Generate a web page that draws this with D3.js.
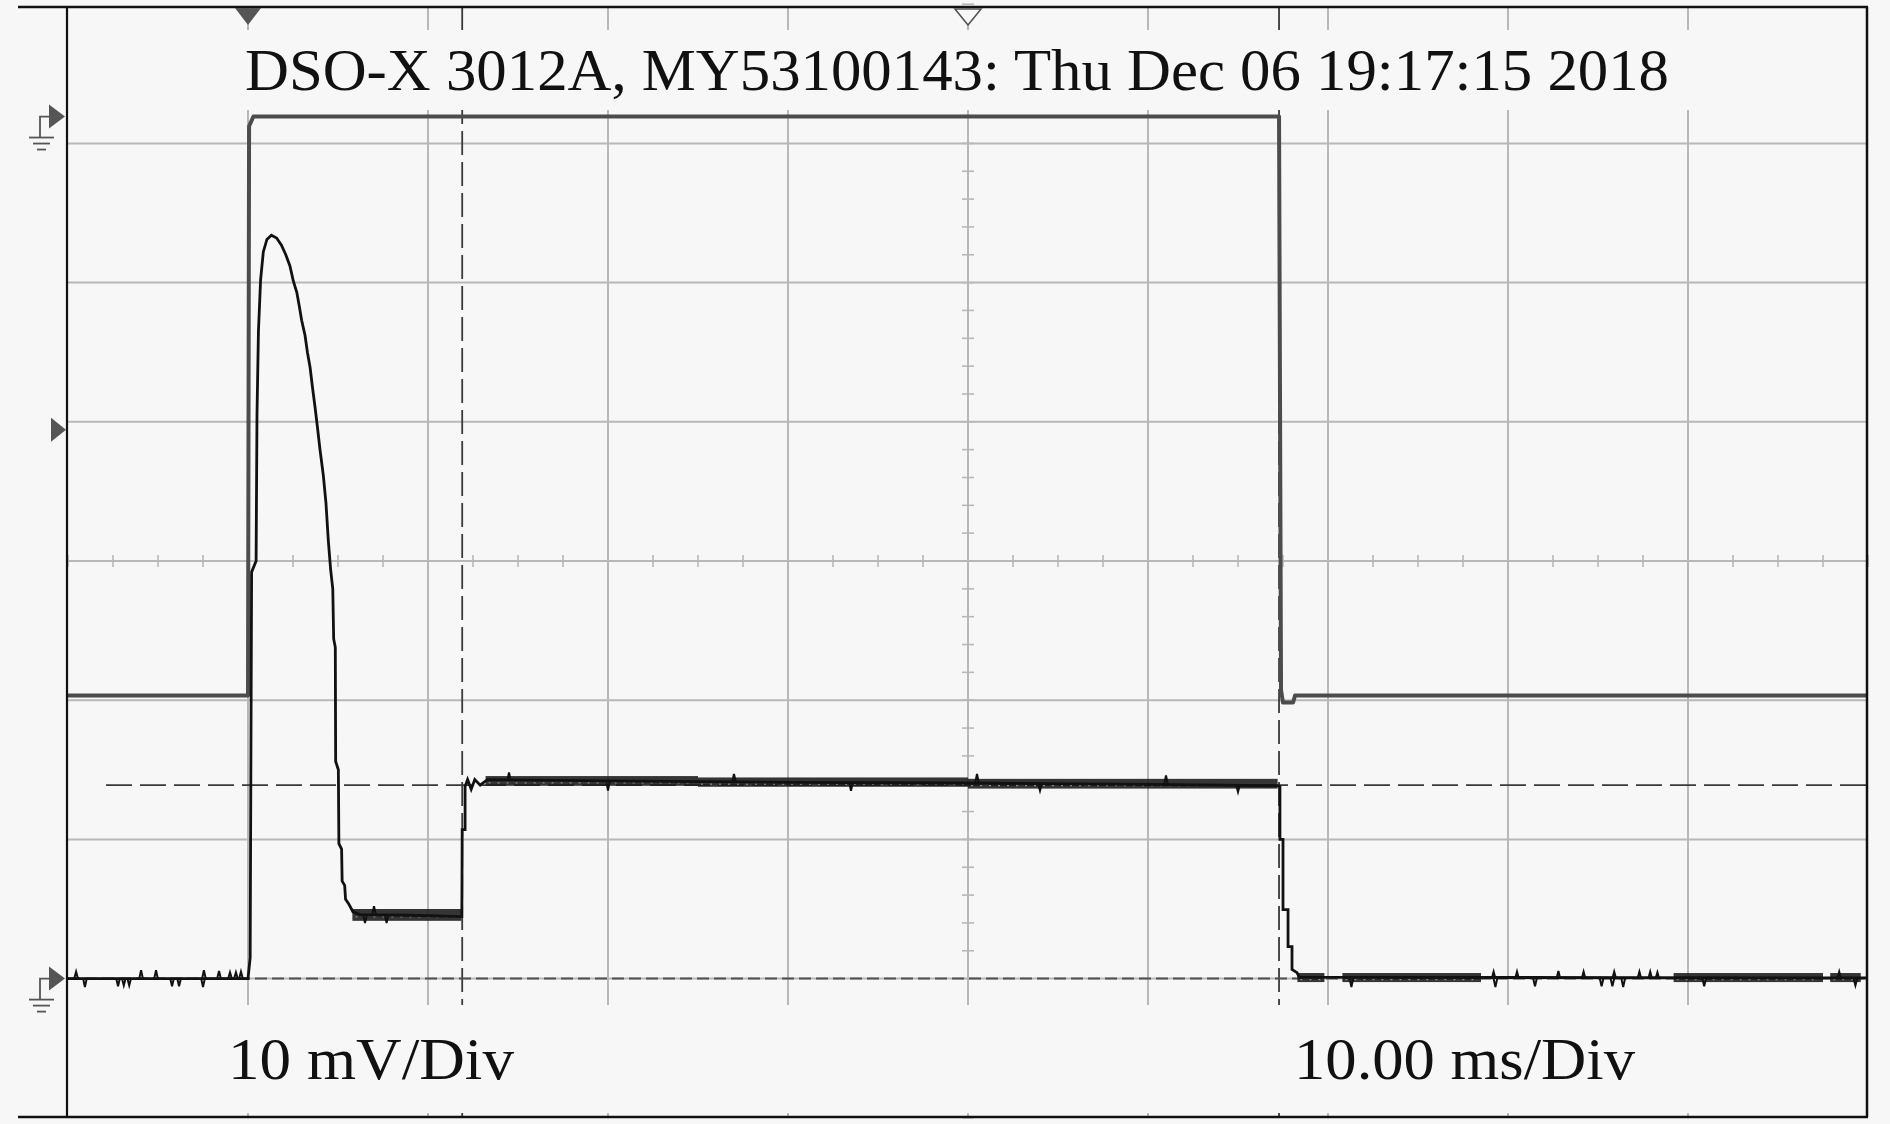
<!DOCTYPE html>
<html><head><meta charset="utf-8">
<script src="https://cdn.jsdelivr.net/npm/d3@7"></script>
<style>html,body{margin:0;padding:0;background:#f7f7f7;} svg{display:block}</style>
</head><body>
<svg id="c" width="1890" height="1124"></svg>
<script>
// ---------------- data ----------------
const titleText = "DSO-X 3012A, MY53100143: Thu Dec 06 19:17:15 2018";
const voltLabel = "10 mV/Div";
const timeLabel = "10.00 ms/Div";
const timeDomain = [-10, 90];          // ms, 10 ms/div, trigger at 0
const divDomain = [-4, 4];             // 8 vertical divisions
const timeGridStep = 10;               // ms per division
const ch2MvPerDiv = 10;                // 10 mV/Div
const ch2GroundDiv = -3;               // ch2 ground marker position (div)
const ch1GroundDiv = 3.193;            // ch1 ground marker position (div)
const triggerTime = 0;                 // filled marker at top
const referenceTime = 40;              // hollow marker at top
const triggerLevelCh1 = -2.25;         // div relative to ch1 ground
const cursorTimes = [11.9, 57.28];     // ms, vertical dashed cursors
const cursorLevelMv = 13.9;            // mV, long-dash horizontal cursor
const groundCursorMv = 0;              // mV, short-dash horizontal cursor

// ch1: [time ms, level in div relative to ch1 ground]
const ch1Trace = [
  [-10, -4.159], [0.0, -4.159], [0.06, -0.07], [0.3, 0], [57.28, 0],
  [57.39, -4.12], [57.5, -4.21], [58.06, -4.21], [58.17, -4.159], [90, -4.159]
];

// ch2: [time ms, mV]
const ch2Trace = [
  [-10, 0], [0.0, 0], [0.12, 1.5], [0.2, 29.2], [0.45, 30.0], [0.5, 40.5],
  [0.58, 46.5], [0.7, 50.2], [0.85, 52.2], [1.05, 53.1], [1.3, 53.4],
  [1.59, 53.2], [1.85, 52.7], [2.1, 52.0], [2.33, 51.2], [2.52, 50.1],
  [2.71, 49.3], [2.85, 48.3], [2.98, 47.3], [3.17, 46.2], [3.3, 45.0],
  [3.45, 43.9], [3.58, 42.5], [3.72, 41.1], [3.85, 39.7], [4.0, 38.0],
  [4.18, 36.2], [4.33, 34.2], [4.46, 31.5], [4.59, 29.4], [4.71, 28.0],
  [4.76, 24.4], [4.85, 23.8], [4.87, 15.6], [5.02, 15.0], [5.05, 9.7],
  [5.2, 9.3], [5.23, 7.0], [5.37, 6.7], [5.42, 5.7], [5.58, 5.4],
  [5.83, 4.8], [6.22, 4.6], [9.0, 4.55], [11.88, 4.45], [11.9, 10.7],
  [12.06, 10.7], [12.06, 13.8], [12.2, 14.3], [12.4, 13.6], [12.6, 14.3],
  [12.9, 13.9], [13.3, 14.3], [20, 14.2], [30, 14.1], [40, 14.05],
  [50, 13.95], [57.28, 13.85], [57.33, 13.8], [57.33, 10.0], [57.5, 10.0],
  [57.5, 4.96], [57.78, 4.96], [57.78, 2.3], [58.0, 2.3], [58.0, 0.65],
  [58.28, 0.43], [58.4, 0.1], [90, 0.05]
];

// dense-noise regions on ch2: [t0, t1, low mV, high mV]
const ch2Bands = [
  [5.8, 11.85, 4.15, 5.0],
  [13.2, 25, 13.85, 14.55],
  [25, 40, 13.78, 14.45],
  [40, 57.2, 13.65, 14.35],
  [58.3, 59.8, -0.25, 0.4],
  [60.8, 68.5, -0.25, 0.4],
  [79.2, 87.5, -0.25, 0.4],
  [87.9, 89.6, -0.25, 0.4]
];

// isolated noise spikes on ch2: [t ms, base mV, peak mV]
const ch2Spikes = [
  [-9.55, 0, 0.5], [-9.06, 0, -0.6], [-7.22, 0, -0.55], [-6.9, 0, -0.5],
  [-6.6, 0, -0.5], [-5.94, 0, 0.6], [-5.11, 0, 0.6], [-4.22, 0, -0.55],
  [-3.83, 0, -0.55], [-2.5, 0, -0.6], [-2.45, 0, 0.6], [-1.61, 0, 0.55],
  [-1.0, 0, 0.45], [-0.67, 0, 0.45], [-0.39, 0, 0.5],
  [6.5, 4.6, 4.0], [7.0, 4.6, 5.2], [7.7, 4.6, 4.0],
  [14.5, 14.2, 14.8], [20, 14.2, 13.5], [27, 14.1, 14.7], [33.5, 14.1, 13.5],
  [40.5, 14.05, 14.7], [44, 14.0, 13.5], [51, 13.95, 14.6], [55, 13.9, 13.4],
  [61.3, 0, -0.6], [69.3, 0, -0.6], [71.5, 0, -0.55], [75.2, 0, -0.55],
  [75.8, 0, -0.55], [76.4, 0, -0.6], [80.9, 0, -0.55], [89.3, 0, -0.5],
  [69.2, 0, 0.5], [70.5, 0, 0.5], [72.8, 0, 0.55], [74.2, 0, 0.5],
  [75.9, 0, 0.5], [77.3, 0, 0.5], [77.9, 0, 0.5], [78.3, 0, 0.45], [88.4, 0, 0.5]
];

// ---------------- drawing ----------------
const svg = d3.select("#c");
const W = 1890, H = 1124;
const BG = "#f7f7f7", GRID = "#b8b8b8", DARK = "#555";
const x = d3.scaleLinear().domain(timeDomain).range([68, 1868]);
const y = d3.scaleLinear().domain(divDomain).range([1117.8, 4.2]);
const y2 = v => y(v / ch2MvPerDiv + ch2GroundDiv);
const y1 = d => y(d + ch1GroundDiv);
const plotL = x(timeDomain[0]), plotR = x(timeDomain[1]);
const topY = 7, bottomY = 1117;

svg.append("rect").attr("width", W).attr("height", H).attr("fill", BG);

// grid
const g = svg.append("g");
const tTicks = d3.range(timeDomain[0] + timeGridStep, timeDomain[1], timeGridStep);
g.selectAll("line.v").data(tTicks).join("line")
  .attr("x1", d => x(d)).attr("x2", d => x(d)).attr("y1", topY).attr("y2", bottomY)
  .attr("stroke", GRID).attr("stroke-width", 2);
const dTicks = d3.range(divDomain[0] + 1, divDomain[1], 1);
g.selectAll("line.h").data(dTicks).join("line")
  .attr("x1", plotL).attr("x2", plotR).attr("y1", d => y(d)).attr("y2", d => y(d))
  .attr("stroke", GRID).attr("stroke-width", 2);
// minor ticks on center axes
const cx = x((timeDomain[0] + timeDomain[1]) / 2), cy = y(0);
const minorT = d3.range(timeDomain[0], timeDomain[1] + 0.01, timeGridStep / 4);
g.selectAll("line.mt").data(minorT).join("line")
  .attr("x1", d => x(d)).attr("x2", d => x(d)).attr("y1", cy - 6).attr("y2", cy + 6)
  .attr("stroke", GRID).attr("stroke-width", 1.6);
const minorD = d3.range(divDomain[0], divDomain[1] + 0.01, 0.2);
g.selectAll("line.md").data(minorD).join("line")
  .attr("x1", cx - 6).attr("x2", cx + 6).attr("y1", d => y(d)).attr("y2", d => y(d))
  .attr("stroke", GRID).attr("stroke-width", 1.6);

// cursors
svg.selectAll("line.cv").data(cursorTimes).join("line")
  .attr("x1", d => x(d)).attr("x2", d => x(d)).attr("y1", topY).attr("y2", bottomY)
  .attr("stroke", "#3a3a3a").attr("stroke-width", 1.8).attr("stroke-dasharray", "24,7");
svg.append("line").attr("x1", 106).attr("x2", plotR).attr("y1", y2(cursorLevelMv)).attr("y2", y2(cursorLevelMv))
  .attr("stroke", "#3a3a3a").attr("stroke-width", 1.8).attr("stroke-dasharray", "26,8");
svg.append("line").attr("x1", plotL).attr("x2", plotR).attr("y1", y2(groundCursorMv)).attr("y2", y2(groundCursorMv))
  .attr("stroke", "#505050").attr("stroke-width", 2).attr("stroke-dasharray", "12,5");

// label boxes
svg.append("rect").attr("x", plotL + 1).attr("y", 30).attr("width", plotR - plotL - 2).attr("height", 80).attr("fill", BG);
svg.append("rect").attr("x", plotL + 1).attr("y", 1005).attr("width", plotR - plotL - 2).attr("height", 108).attr("fill", BG);

// ch1 trace
const line1 = d3.line().x(d => x(d[0])).y(d => y1(d[1]));
svg.append("path").attr("d", line1(ch1Trace)).attr("fill", "none")
  .attr("stroke", "#4c4c4c").attr("stroke-width", 4).attr("stroke-linejoin", "round");

// ch2 noise bands (dense sampling noise) with dotted texture
svg.selectAll("rect.band").data(ch2Bands).join("rect")
  .attr("x", d => x(d[0])).attr("width", d => x(d[1]) - x(d[0]))
  .attr("y", d => y2(d[3])).attr("height", d => y2(d[2]) - y2(d[3]))
  .attr("fill", "#1a1a1a").attr("opacity", 0.88);
svg.selectAll("line.tex").data(ch2Bands).join("line")
  .attr("x1", d => x(d[0]) + 3).attr("x2", d => x(d[1]) - 3)
  .attr("y1", d => y2((d[2] + d[3]) / 2) + 2).attr("y2", d => y2((d[2] + d[3]) / 2) + 2)
  .attr("stroke", "#8c8c8c").attr("stroke-width", 1.2).attr("stroke-dasharray", "2,7");

// ch2 trace
const line2 = d3.line().x(d => x(d[0])).y(d => y2(d[1]));
svg.append("path").attr("d", line2(ch2Trace)).attr("fill", "none")
  .attr("stroke", "#111").attr("stroke-width", 2.8).attr("stroke-linejoin", "miter");
svg.selectAll("path.spk").data(ch2Spikes).join("path")
  .attr("d", d => line2([[d[0] - 0.1, d[1]], [d[0], d[2]], [d[0] + 0.1, d[1]]]))
  .attr("fill", "none").attr("stroke", "#111").attr("stroke-width", 2);

// text
const font = "'Liberation Serif', 'Times New Roman', serif";
svg.append("text").attr("x", 245).attr("y", 89.5).attr("font-family", font).attr("font-size", 59)
  .attr("fill", "#111").attr("textLength", 1424).attr("lengthAdjust", "spacingAndGlyphs").text(titleText);
svg.append("text").attr("x", 228).attr("y", 1079).attr("font-family", font).attr("font-size", 59)
  .attr("fill", "#111").attr("textLength", 286).attr("lengthAdjust", "spacingAndGlyphs").text(voltLabel);
svg.append("text").attr("x", 1294).attr("y", 1079).attr("font-family", font).attr("font-size", 59)
  .attr("fill", "#111").attr("textLength", 341).attr("lengthAdjust", "spacingAndGlyphs").text(timeLabel);

// frame
svg.append("line").attr("x1", 18).attr("x2", plotR).attr("y1", topY).attr("y2", topY).attr("stroke", "#111").attr("stroke-width", 2.5);
svg.append("line").attr("x1", 18).attr("x2", plotR).attr("y1", bottomY).attr("y2", bottomY).attr("stroke", "#111").attr("stroke-width", 2.5);
svg.append("line").attr("x1", plotL - 1).attr("x2", plotL - 1).attr("y1", topY).attr("y2", bottomY).attr("stroke", "#111").attr("stroke-width", 2.2);
svg.append("line").attr("x1", plotR - 1).attr("x2", plotR - 1).attr("y1", topY).attr("y2", bottomY).attr("stroke", "#111").attr("stroke-width", 2.5);

// top markers
const tx = x(triggerTime), rx = x(referenceTime);
svg.append("path").attr("d", `M${tx - 13},8 L${tx + 13},8 L${tx},25 Z`).attr("fill", DARK);
svg.append("path").attr("d", `M${rx - 13},9 L${rx + 13},9 L${rx},25 Z`).attr("fill", BG)
  .attr("stroke", DARK).attr("stroke-width", 1.6);

// trigger level marker
const ty = y1(triggerLevelCh1);
svg.append("path").attr("d", `M51,${ty - 12} L66,${ty} L51,${ty + 12} Z`).attr("fill", DARK);

// ground markers
function ground(gy) {
  const m = svg.append("g").attr("stroke", DARK).attr("fill", "none").attr("stroke-width", 1.8);
  m.append("path").attr("d", `M40,${gy + 21} L40,${gy} L50,${gy}`);
  svg.append("path").attr("d", `M49,${gy - 12} L65,${gy} L49,${gy + 12} Z`).attr("fill", DARK);
  m.append("line").attr("x1", 29).attr("x2", 54).attr("y1", gy + 21).attr("y2", gy + 21);
  m.append("line").attr("x1", 33).attr("x2", 50).attr("y1", gy + 27).attr("y2", gy + 27);
  m.append("line").attr("x1", 37).attr("x2", 46).attr("y1", gy + 33).attr("y2", gy + 33);
}
ground(y(ch1GroundDiv));
ground(y(ch2GroundDiv));
</script>
</body></html>
